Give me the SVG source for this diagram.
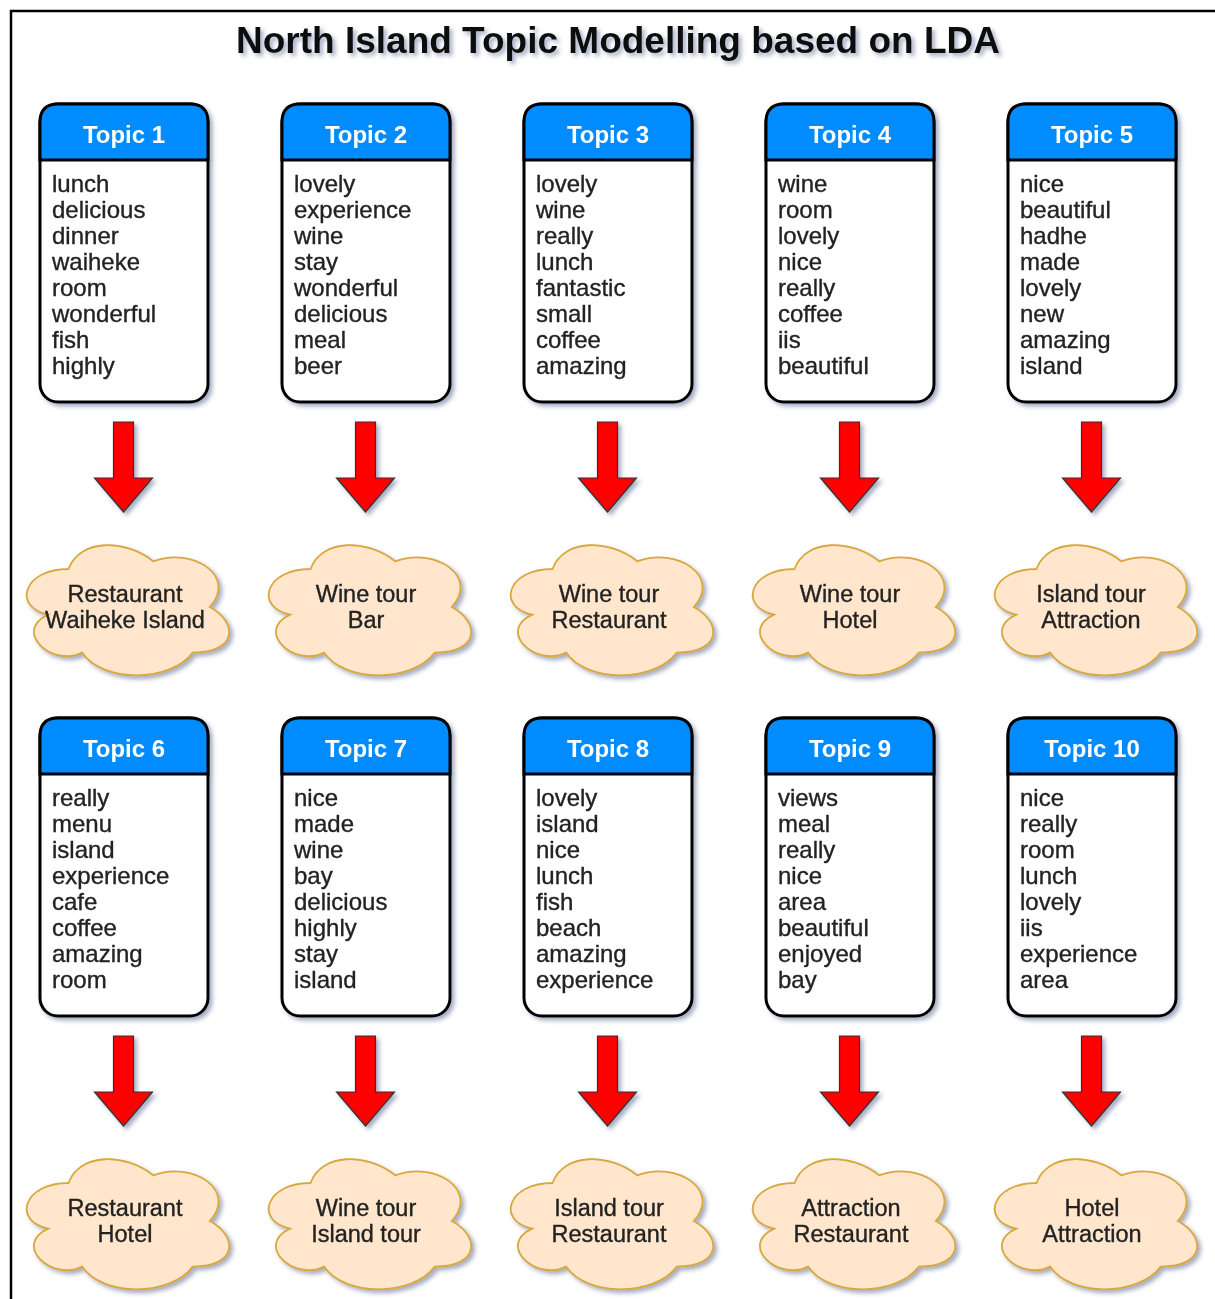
<svg xmlns="http://www.w3.org/2000/svg" xmlns:xlink="http://www.w3.org/1999/xlink" width="1215" height="1299" viewBox="0 0 1215 1299">
  <style>
    .frame { fill: none; stroke: #000; stroke-width: 2.5; }
    .title { font-family: "Liberation Sans", Arial, sans-serif; font-weight: bold; font-size: 37px; fill: #111; text-anchor: middle; }
    .box { fill: #fff; stroke: #000; stroke-width: 3; }
    .head { fill: #008cff; stroke: #000; stroke-width: 3; }
    .htxt { font-family: "Liberation Sans", Arial, sans-serif; font-weight: bold; font-size: 24px; fill: #fff; text-anchor: middle; }
    .words { font-family: "Liberation Sans", Arial, sans-serif; font-size: 24px; fill: #222; stroke: #222; stroke-width: 0.35; }
    .arrow { fill: #ff0000; stroke: #333; stroke-width: 1.2; }
    .cloud { fill: #ffe6cc; stroke: #d9a83c; stroke-width: 1.8; }
    .ctxt { font-family: "Liberation Sans", Arial, sans-serif; font-size: 23.5px; fill: #222; stroke: #222; stroke-width: 0.35; text-anchor: middle; }
  </style>
  <defs>
    <filter id="shadow" x="-10%" y="-10%" width="130%" height="130%">
      <feDropShadow dx="3" dy="3" stdDeviation="2" flood-color="#3c4a78" flood-opacity="0.45"/>
    </filter>
    <!-- topic card: rounded outline, header band with rounded top -->
    <path id="cardHead" d="M0 56 V18 Q0 0 18 0 H150 Q168 0 168 18 V56 Z"/>
    <rect id="cardBody" x="0" y="0" width="168" height="298" rx="18" ry="18"/>
    <!-- block arrow, origin at top centre of shaft -->
    <path id="downArrow" d="M-10 0 H10 V56 H29 L0 90 L-29 56 H-10 Z"/>
    <!-- cloud, 226 x 152 bounding box -->
    <path id="cloudShape" d="M56.5 38 C11.3 38 0 76 36.16 83.6 C0 100.32 40.68 136.8 70.06 121.6 C90.4 152 158.2 152 180.8 121.6 C226 121.6 226 91.2 197.75 76 C226 45.6 180.8 15.2 141.25 30.4 C113 7.6 67.8 7.6 56.5 38 Z"/>
  </defs>

  <rect width="1215" height="1299" fill="#fff"/>
  <rect class="frame" x="11" y="11" width="1230" height="1310"/>

  <text class="title" x="618" y="53" filter="url(#shadow)">North Island Topic Modelling based on LDA</text>

  <!-- topic cards, row 1 -->
  <g id="topic1" transform="translate(40,104)" filter="url(#shadow)">
    <use xlink:href="#cardBody" class="box"/>
    <use xlink:href="#cardHead" class="head"/>
    <text class="htxt" x="84" y="39">Topic 1</text>
    <text class="words" x="12" y="88"><tspan x="12">lunch</tspan><tspan x="12" dy="26">delicious</tspan><tspan x="12" dy="26">dinner</tspan><tspan x="12" dy="26">waiheke</tspan><tspan x="12" dy="26">room</tspan><tspan x="12" dy="26">wonderful</tspan><tspan x="12" dy="26">fish</tspan><tspan x="12" dy="26">highly</tspan></text>
  </g>
  <g id="topic2" transform="translate(282,104)" filter="url(#shadow)">
    <use xlink:href="#cardBody" class="box"/>
    <use xlink:href="#cardHead" class="head"/>
    <text class="htxt" x="84" y="39">Topic 2</text>
    <text class="words" x="12" y="88"><tspan x="12">lovely</tspan><tspan x="12" dy="26">experience</tspan><tspan x="12" dy="26">wine</tspan><tspan x="12" dy="26">stay</tspan><tspan x="12" dy="26">wonderful</tspan><tspan x="12" dy="26">delicious</tspan><tspan x="12" dy="26">meal</tspan><tspan x="12" dy="26">beer</tspan></text>
  </g>
  <g id="topic3" transform="translate(524,104)" filter="url(#shadow)">
    <use xlink:href="#cardBody" class="box"/>
    <use xlink:href="#cardHead" class="head"/>
    <text class="htxt" x="84" y="39">Topic 3</text>
    <text class="words" x="12" y="88"><tspan x="12">lovely</tspan><tspan x="12" dy="26">wine</tspan><tspan x="12" dy="26">really</tspan><tspan x="12" dy="26">lunch</tspan><tspan x="12" dy="26">fantastic</tspan><tspan x="12" dy="26">small</tspan><tspan x="12" dy="26">coffee</tspan><tspan x="12" dy="26">amazing</tspan></text>
  </g>
  <g id="topic4" transform="translate(766,104)" filter="url(#shadow)">
    <use xlink:href="#cardBody" class="box"/>
    <use xlink:href="#cardHead" class="head"/>
    <text class="htxt" x="84" y="39">Topic 4</text>
    <text class="words" x="12" y="88"><tspan x="12">wine</tspan><tspan x="12" dy="26">room</tspan><tspan x="12" dy="26">lovely</tspan><tspan x="12" dy="26">nice</tspan><tspan x="12" dy="26">really</tspan><tspan x="12" dy="26">coffee</tspan><tspan x="12" dy="26">iis</tspan><tspan x="12" dy="26">beautiful</tspan></text>
  </g>
  <g id="topic5" transform="translate(1008,104)" filter="url(#shadow)">
    <use xlink:href="#cardBody" class="box"/>
    <use xlink:href="#cardHead" class="head"/>
    <text class="htxt" x="84" y="39">Topic 5</text>
    <text class="words" x="12" y="88"><tspan x="12">nice</tspan><tspan x="12" dy="26">beautiful</tspan><tspan x="12" dy="26">hadhe</tspan><tspan x="12" dy="26">made</tspan><tspan x="12" dy="26">lovely</tspan><tspan x="12" dy="26">new</tspan><tspan x="12" dy="26">amazing</tspan><tspan x="12" dy="26">island</tspan></text>
  </g>

  <!-- topic cards, row 2 -->
  <g id="topic6" transform="translate(40,718)" filter="url(#shadow)">
    <use xlink:href="#cardBody" class="box"/>
    <use xlink:href="#cardHead" class="head"/>
    <text class="htxt" x="84" y="39">Topic 6</text>
    <text class="words" x="12" y="88"><tspan x="12">really</tspan><tspan x="12" dy="26">menu</tspan><tspan x="12" dy="26">island</tspan><tspan x="12" dy="26">experience</tspan><tspan x="12" dy="26">cafe</tspan><tspan x="12" dy="26">coffee</tspan><tspan x="12" dy="26">amazing</tspan><tspan x="12" dy="26">room</tspan></text>
  </g>
  <g id="topic7" transform="translate(282,718)" filter="url(#shadow)">
    <use xlink:href="#cardBody" class="box"/>
    <use xlink:href="#cardHead" class="head"/>
    <text class="htxt" x="84" y="39">Topic 7</text>
    <text class="words" x="12" y="88"><tspan x="12">nice</tspan><tspan x="12" dy="26">made</tspan><tspan x="12" dy="26">wine</tspan><tspan x="12" dy="26">bay</tspan><tspan x="12" dy="26">delicious</tspan><tspan x="12" dy="26">highly</tspan><tspan x="12" dy="26">stay</tspan><tspan x="12" dy="26">island</tspan></text>
  </g>
  <g id="topic8" transform="translate(524,718)" filter="url(#shadow)">
    <use xlink:href="#cardBody" class="box"/>
    <use xlink:href="#cardHead" class="head"/>
    <text class="htxt" x="84" y="39">Topic 8</text>
    <text class="words" x="12" y="88"><tspan x="12">lovely</tspan><tspan x="12" dy="26">island</tspan><tspan x="12" dy="26">nice</tspan><tspan x="12" dy="26">lunch</tspan><tspan x="12" dy="26">fish</tspan><tspan x="12" dy="26">beach</tspan><tspan x="12" dy="26">amazing</tspan><tspan x="12" dy="26">experience</tspan></text>
  </g>
  <g id="topic9" transform="translate(766,718)" filter="url(#shadow)">
    <use xlink:href="#cardBody" class="box"/>
    <use xlink:href="#cardHead" class="head"/>
    <text class="htxt" x="84" y="39">Topic 9</text>
    <text class="words" x="12" y="88"><tspan x="12">views</tspan><tspan x="12" dy="26">meal</tspan><tspan x="12" dy="26">really</tspan><tspan x="12" dy="26">nice</tspan><tspan x="12" dy="26">area</tspan><tspan x="12" dy="26">beautiful</tspan><tspan x="12" dy="26">enjoyed</tspan><tspan x="12" dy="26">bay</tspan></text>
  </g>
  <g id="topic10" transform="translate(1008,718)" filter="url(#shadow)">
    <use xlink:href="#cardBody" class="box"/>
    <use xlink:href="#cardHead" class="head"/>
    <text class="htxt" x="84" y="39">Topic 10</text>
    <text class="words" x="12" y="88"><tspan x="12">nice</tspan><tspan x="12" dy="26">really</tspan><tspan x="12" dy="26">room</tspan><tspan x="12" dy="26">lunch</tspan><tspan x="12" dy="26">lovely</tspan><tspan x="12" dy="26">iis</tspan><tspan x="12" dy="26">experience</tspan><tspan x="12" dy="26">area</tspan></text>
  </g>

  <!-- connectors: block arrows from each topic to its category -->
  <g id="connectors" filter="url(#shadow)">
    <use xlink:href="#downArrow" class="arrow" transform="translate(123.5,422)"/>
    <use xlink:href="#downArrow" class="arrow" transform="translate(365.5,422)"/>
    <use xlink:href="#downArrow" class="arrow" transform="translate(607.5,422)"/>
    <use xlink:href="#downArrow" class="arrow" transform="translate(849.5,422)"/>
    <use xlink:href="#downArrow" class="arrow" transform="translate(1091.5,422)"/>
    <use xlink:href="#downArrow" class="arrow" transform="translate(123.5,1036)"/>
    <use xlink:href="#downArrow" class="arrow" transform="translate(365.5,1036)"/>
    <use xlink:href="#downArrow" class="arrow" transform="translate(607.5,1036)"/>
    <use xlink:href="#downArrow" class="arrow" transform="translate(849.5,1036)"/>
    <use xlink:href="#downArrow" class="arrow" transform="translate(1091.5,1036)"/>
  </g>

  <!-- category clouds, row 1 -->
  <g id="cloud1" filter="url(#shadow)">
    <use xlink:href="#cloudShape" class="cloud" transform="translate(12,531)"/>
    <text class="ctxt" x="125" y="602">Restaurant</text>
    <text class="ctxt" x="125" y="628">Waiheke Island</text>
  </g>
  <g id="cloud2" filter="url(#shadow)">
    <use xlink:href="#cloudShape" class="cloud" transform="translate(254,531)"/>
    <text class="ctxt" x="366" y="602">Wine tour</text>
    <text class="ctxt" x="366" y="628">Bar</text>
  </g>
  <g id="cloud3" filter="url(#shadow)">
    <use xlink:href="#cloudShape" class="cloud" transform="translate(496,531)"/>
    <text class="ctxt" x="609" y="602">Wine tour</text>
    <text class="ctxt" x="609" y="628">Restaurant</text>
  </g>
  <g id="cloud4" filter="url(#shadow)">
    <use xlink:href="#cloudShape" class="cloud" transform="translate(738,531)"/>
    <text class="ctxt" x="850" y="602">Wine tour</text>
    <text class="ctxt" x="850" y="628">Hotel</text>
  </g>
  <g id="cloud5" filter="url(#shadow)">
    <use xlink:href="#cloudShape" class="cloud" transform="translate(980,531)"/>
    <text class="ctxt" x="1091" y="602">Island tour</text>
    <text class="ctxt" x="1091" y="628">Attraction</text>
  </g>

  <!-- category clouds, row 2 -->
  <g id="cloud6" filter="url(#shadow)">
    <use xlink:href="#cloudShape" class="cloud" transform="translate(12,1145)"/>
    <text class="ctxt" x="125" y="1216">Restaurant</text>
    <text class="ctxt" x="125" y="1242">Hotel</text>
  </g>
  <g id="cloud7" filter="url(#shadow)">
    <use xlink:href="#cloudShape" class="cloud" transform="translate(254,1145)"/>
    <text class="ctxt" x="366" y="1216">Wine tour</text>
    <text class="ctxt" x="366" y="1242">Island tour</text>
  </g>
  <g id="cloud8" filter="url(#shadow)">
    <use xlink:href="#cloudShape" class="cloud" transform="translate(496,1145)"/>
    <text class="ctxt" x="609" y="1216">Island tour</text>
    <text class="ctxt" x="609" y="1242">Restaurant</text>
  </g>
  <g id="cloud9" filter="url(#shadow)">
    <use xlink:href="#cloudShape" class="cloud" transform="translate(738,1145)"/>
    <text class="ctxt" x="851" y="1216">Attraction</text>
    <text class="ctxt" x="851" y="1242">Restaurant</text>
  </g>
  <g id="cloud10" filter="url(#shadow)">
    <use xlink:href="#cloudShape" class="cloud" transform="translate(980,1145)"/>
    <text class="ctxt" x="1092" y="1216">Hotel</text>
    <text class="ctxt" x="1092" y="1242">Attraction</text>
  </g>
</svg>
